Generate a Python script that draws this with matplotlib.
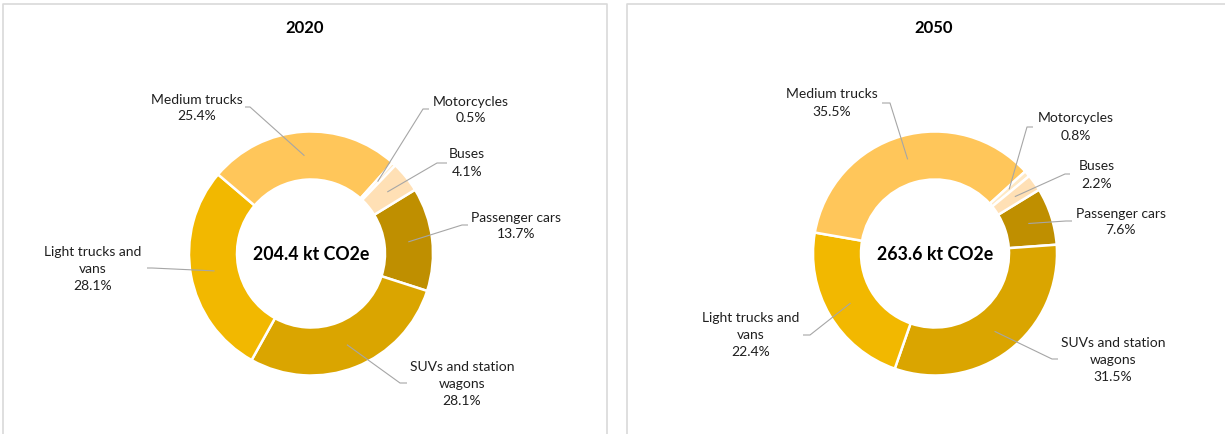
import matplotlib
matplotlib.use("Agg")
import matplotlib.pyplot as plt
import numpy as np

plt.rcParams['font.family'] = ['Lato', 'DejaVu Sans']

categories = ["Passenger cars", "SUVs and station wagons", "Light trucks and vans",
              "Medium trucks", "Motorcycles", "Buses"]
label_names = ["Passenger cars", "SUVs and station\nwagons", "Light trucks and\nvans",
               "Medium trucks", "Motorcycles", "Buses"]
values_2020 = [13.7, 28.1, 28.1, 25.4, 0.5, 4.1]
values_2050 = [7.6, 31.5, 22.4, 35.5, 0.8, 2.2]
totals = {"2020": 204.4, "2050": 263.6}
colors = ["#BF8F00", "#DAA500", "#F2B800", "#FFC65A", "#FFE9C4", "#FFE0B5"]

W, H = 1225, 434
fig = plt.figure(figsize=(W / 100, H / 100), dpi=100)
ax = fig.add_axes([0, 0, 1, 1])
ax.set_xlim(0, W)
ax.set_ylim(0, H)
ax.set_aspect('equal')
ax.axis('off')

def Y(y):
    return H - y

# panel borders
bc = "#D9D9D9"
ax.plot([3, 3, 607, 607], [Y(434), Y(4), Y(4), Y(434)], color=bc, lw=1.2)
ax.plot([627, 627, 1225], [Y(434), Y(4), Y(4)], color=bc, lw=1.2)

R = 122
ring = 48
# layout: text centre, leader start x, elbow x, leader y (image pixel coords)
layout = {
    "2020": dict(center=(311, 253.5), title_x=305,
                 lab=[((516, 226), 468, 462, 225),
                      ((462, 384), 407, 400, 383),
                      ((93, 269), 147, 152, 268),
                      ((197, 108), 245, 250, 107),
                      ((471, 110), 429, 423, 109),
                      ((467, 163), 447, 437, 163)]),
    "2050": dict(center=(935, 253.5), title_x=934,
                 lab=[((1121, 222), 1072, 1066, 221),
                      ((1113, 360), 1058, 1052, 359),
                      ((751, 335), 803, 810, 335),
                      ((832, 103), 882, 890, 103),
                      ((1076, 127), 1033, 1027, 127),
                      ((1097, 175), 1070, 1065, 174)]),
}

for year, vals in (("2020", values_2020), ("2050", values_2050)):
    L = layout[year]
    cx, cy = L["center"]
    wedges, _ = ax.pie(vals, colors=colors, startangle=31.5, counterclock=False,
                       center=(cx, Y(cy)), radius=R, frame=True,
                       wedgeprops=dict(width=ring, edgecolor='white', linewidth=1.8))
    ax.set_xlim(0, W)
    ax.set_ylim(0, H)
    ax.axis('off')
    ax.text(L["title_x"], Y(28), year, ha='center', va='center', fontsize=12,
            fontweight='bold', color='black')
    ax.text(cx, Y(255), f"{totals[year]:.1f} kt CO2e", ha='center', va='center',
            fontsize=12.8, fontweight='bold', color='black')
    for w, name, v, (tpos, xs, xe, yl) in zip(wedges, label_names, vals, L["lab"]):
        mid = np.deg2rad((w.theta1 + w.theta2) / 2)
        rm = R - ring / 2
        axp = cx + rm * np.cos(mid)
        ayp = Y(cy) + rm * np.sin(mid)
        ax.plot([xs, xe, axp], [Y(yl), Y(yl), ayp], color="#A6A6A6", lw=0.8,
                solid_capstyle='butt')
        ax.text(tpos[0], Y(tpos[1]), f"{name}\n{v:.1f}%", ha='center', va='center',
                fontsize=10, color='#1F1F1F', linespacing=1.5)

fig.savefig("out.png", dpi=100)
